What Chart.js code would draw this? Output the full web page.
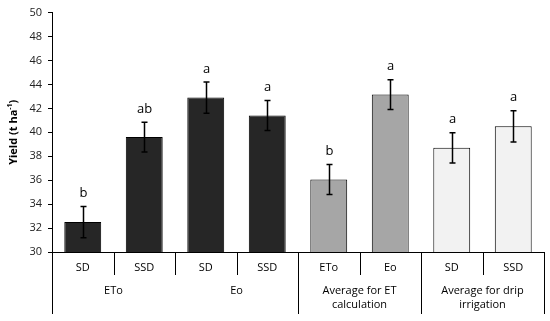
<!DOCTYPE html>
<html><head><meta charset="utf-8">
<script src="https://cdn.jsdelivr.net/npm/chart.js@4"></script>
<style>html,body{margin:0;padding:0;background:#fff}#w{width:550px;height:321px}</style>
</head><body><div id="w"><canvas id="c"></canvas></div>
<script>
const categories = ['SD','SSD','SD','SSD','ETo','Eo','SD','SSD'];
const groupLabels = [['ETo'],['Eo'],['Average for ET','calculation'],['Average for drip','irrigation']];
const groupSpans = [2,2,2,2];
const yields = [32.5, 39.6, 42.9, 41.4, 36.05, 43.15, 38.7, 40.5];
const errors = [1.3, 1.25, 1.3, 1.25, 1.25, 1.25, 1.27, 1.3];
const letters = ['b','ab','a','a','b','a','a','a'];
const barColors = ['#262626','#262626','#262626','#262626','#a6a6a6','#a6a6a6','#f2f2f2','#f2f2f2'];
const longSeparators = [0,4,6,8];
const yTicks = {min:30, max:50, step:2};

const FONT = '"Open Sans", sans-serif';

const extras = {
  id:'extras',
  afterDatasetsDraw(chart){
    const ctx = chart.ctx, y = chart.scales.y;
    const meta = chart.getDatasetMeta(0);
    ctx.save();
    ctx.strokeStyle = '#000'; ctx.lineWidth = 1.5;
    ctx.fillStyle = '#000';
    ctx.font = '13px ' + FONT;
    ctx.textAlign = 'center'; ctx.textBaseline = 'middle';
    yields.forEach((v,i)=>{
      const px = Math.round(meta.data[i].x) + 0.5;
      const t = y.getPixelForValue(v + errors[i]);
      const b = y.getPixelForValue(v - errors[i]);
      ctx.beginPath();
      ctx.moveTo(px,t); ctx.lineTo(px,b);
      ctx.moveTo(px-3,t); ctx.lineTo(px+3,t);
      ctx.moveTo(px-3,b); ctx.lineTo(px+3,b);
      ctx.stroke();
      ctx.fillText(letters[i], px, t - 13);
    });
    ctx.restore();
  },
  afterDraw(chart){
    const ctx = chart.ctx, x = chart.scales.x, ca = chart.chartArea;
    const half = (x.getPixelForValue(1) - x.getPixelForValue(0))/2;
    const edge = i => i < categories.length ? x.getPixelForValue(i) - half : x.getPixelForValue(categories.length-1) + half;
    ctx.save();
    ctx.strokeStyle = '#000'; ctx.lineWidth = 1;
    // separators
    for (let i = 0; i <= categories.length; i++){
      const px = Math.round(edge(i)) + 0.5;
      const bottom = longSeparators.includes(i) ? ca.bottom + 62 : ca.bottom + 23;
      ctx.beginPath(); ctx.moveTo(px, ca.bottom); ctx.lineTo(px, bottom); ctx.stroke();
    }
    ctx.fillStyle = '#000';
    ctx.font = '11px ' + FONT;
    ctx.textAlign = 'center'; ctx.textBaseline = 'middle';
    categories.forEach((c,i)=> ctx.fillText(c, x.getPixelForValue(i), ca.bottom + 16));
    let start = 0;
    groupLabels.forEach((lines,g)=>{
      const end = start + groupSpans[g];
      const cx = (edge(start) + edge(end))/2;
      lines.forEach((l,k)=> ctx.fillText(l, cx, ca.bottom + 39 + k*14));
      start = end;
    });
    // y title
    ctx.translate(14, (ca.top + ca.bottom)/2);
    ctx.rotate(-Math.PI/2);
    ctx.font = 'bold 11px ' + FONT;
    const a = 'Yield (t ha', s = '-1', e = ')';
    ctx.font = 'bold 11px ' + FONT; const wa = ctx.measureText(a).width;
    ctx.font = 'bold 7px ' + FONT; const ws = ctx.measureText(s).width;
    ctx.font = 'bold 11px ' + FONT; const we = ctx.measureText(e).width;
    let sx = -(wa + ws + we)/2;
    ctx.textAlign = 'left';
    ctx.fillText(a, sx, 0); sx += wa;
    ctx.font = 'bold 7px ' + FONT; ctx.fillText(s, sx, -4); sx += ws;
    ctx.font = 'bold 11px ' + FONT; ctx.fillText(e, sx, 0);
    ctx.restore();
  }
};

new Chart(document.getElementById('c'), {
  type:'bar',
  data:{ labels: categories, datasets:[{ data: yields, backgroundColor: barColors, borderColor:'#000', borderWidth:1, barPercentage:0.6, categoryPercentage:1 }]},
  options:{
    responsive:true, maintainAspectRatio:false, animation:false,
    layout:{ padding:{ top:6, right:6, left:0, bottom:0 } },
    plugins:{ legend:{display:false}, tooltip:{enabled:false} },
    scales:{
      x:{ grid:{display:false}, ticks:{display:false}, border:{color:'#000', width:1},
          afterFit(s){ s.height = 69; } },
      y:{ min:yTicks.min, max:yTicks.max,
          ticks:{ stepSize:yTicks.step, color:'#222', font:{family:FONT, size:11}, padding:6 },
          grid:{ drawOnChartArea:false, drawTicks:true, tickLength:4, color:'#000' },
          border:{ color:'#000', width:1 },
          afterFit(s){ s.width = 52; } }
    }
  },
  plugins:[extras]
});
</script></body></html>
